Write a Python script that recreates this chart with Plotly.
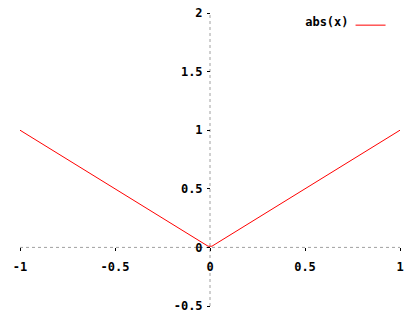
import plotly.graph_objects as go

# key points of abs(x)
x_vals = [-1.0, -0.0101, 0.0101, 1.0]
y_vals = [1.0, 0.0101, 0.0101, 1.0]
series_name = "abs(x)"

x_ticks = [-1, -0.5, 0, 0.5, 1]
x_tick_labels = ["-1", "-0.5", "0", "0.5", "1"]
y_ticks = [-0.5, 0, 0.5, 1, 1.5, 2]
y_tick_labels = ["-0.5", "0", "0.5", "1", "1.5", "2"]

font = dict(family="DejaVu Sans Mono", size=12, color="black", weight="bold")

fig = go.Figure()
fig.add_trace(go.Scatter(x=x_vals, y=y_vals, mode="lines", name="",
                         line=dict(color="#ff0000", width=1), showlegend=True))

fig.add_shape(type="line", xref="x", yref="y", x0=-1, x1=1, y0=0, y1=0,
              line=dict(color="#a0a0a0", width=1, dash="dot"), layer="below")
fig.add_shape(type="line", xref="x", yref="y", x0=0, x1=0, y0=-0.5, y1=2,
              line=dict(color="#a0a0a0", width=1, dash="dot"), layer="below")

fig.update_layout(
    width=420, height=320,
    margin=dict(l=20, r=20, t=13, b=14, autoexpand=False),
    paper_bgcolor="white", plot_bgcolor="white",
    font=font,
    xaxis=dict(range=[-1, 1], tickvals=x_ticks, ticktext=x_tick_labels,
               showgrid=False, zeroline=False, showline=False,
               ticks="outside", ticklen=3, tickcolor="black",
               anchor="free", position=0.2, tickfont=font,
               automargin=False, ticklabelstandoff=5),
    yaxis=dict(range=[-0.5, 2], tickvals=y_ticks, ticktext=y_tick_labels,
               showgrid=False, zeroline=False, showline=False,
               ticks="outside", ticklen=3, tickcolor="black",
               anchor="free", position=0.5, tickfont=font,
               automargin=False, ticklabelstandoff=2),
    legend=dict(x=0.99, y=1.008, xanchor="right", yanchor="top",
                bgcolor="rgba(0,0,0,0)", indentation=-6,
                title=dict(text=series_name, side="left", font=font),
                font=font, itemwidth=30),
)

fig.write_html("out.html")
